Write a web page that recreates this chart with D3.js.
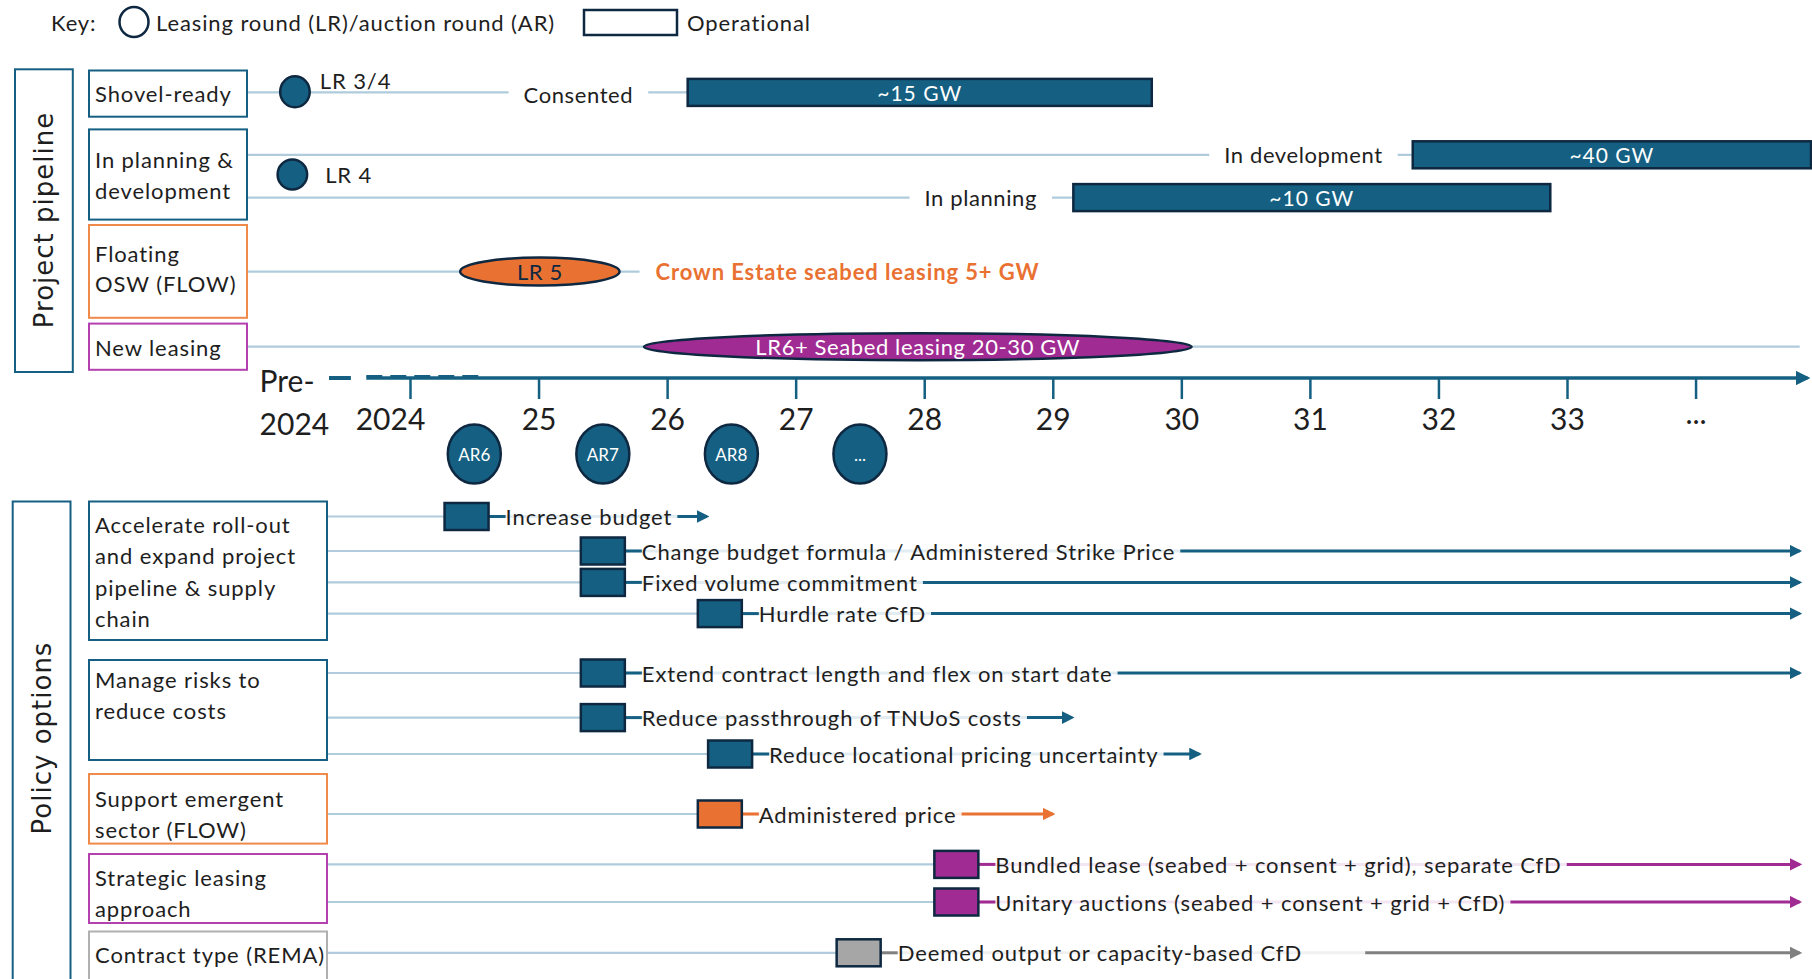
<!DOCTYPE html>
<html><head><meta charset="utf-8">
<script src="https://cdn.jsdelivr.net/npm/d3@7"></script>
<style>
body{margin:0;background:#fff}
svg{display:block}
text{font-family:Lato, "Open Sans", sans-serif;fill:#1e1e1e}
.t{font-size:22px;letter-spacing:0.9px}
</style>
</head><body>
<svg id="c" width="1812" height="979"></svg>
<script>
// ================= DATA =================
const tickYears = [2024, 2025, 2026, 2027, 2028, 2029, 2030, 2031, 2032, 2033, 2034];
const tickLabels = ["2024", "25", "26", "27", "28", "29", "30", "31", "32", "33", "..."];
const preLabel = ["Pre-", "2024"];

const auctionRounds = ["AR6", "AR7", "AR8", "..."];
const auctionYears = [2024.5, 2025.5, 2026.5, 2027.5];

const pipelineCategories = ["Shovel-ready", "In planning &|development", "Floating|OSW (FLOW)", "New leasing"];

const leasingRounds = ["LR 3/4", "LR 4", "LR 5", "LR6+ Seabed leasing 20-30 GW"];
const leasingStart = [2022.99, 2022.97, 2024.39, 2025.82];
const leasingEnd = [2023.22, 2023.20, 2025.63, 2030.08];

const stageLabels = ["Consented", "In development", "In planning"];
const stageLabelYears = [2025.31, 2030.95, 2028.44];
const operationalLabels = ["~15 GW", "~40 GW", "~10 GW"];
const operationalStart = [2026.16, 2031.80, 2029.16];
const operationalEnd = [2029.77, 2034.95, 2032.87];

const flowNote = "Crown Estate seabed leasing 5+ GW";
const flowNoteYear = 2025.91;

const policyCategories = ["Accelerate roll-out|and expand project|pipeline & supply|chain",
  "Manage risks to|reduce costs", "Support emergent|sector (FLOW)", "Strategic leasing|approach", "Contract type (REMA)"];
const policyOptions = ["Increase budget", "Change budget formula / Administered Strike Price",
  "Fixed volume commitment", "Hurdle rate CfD", "Extend contract length and flex on start date",
  "Reduce passthrough of TNUoS costs", "Reduce locational pricing uncertainty", "Administered price",
  "Bundled lease (seabed + consent + grid), separate CfD", "Unitary auctions (seabed + consent + grid + CfD)",
  "Deemed output or capacity-based CfD"];
const policyGroup = [0, 0, 0, 0, 1, 1, 1, 2, 3, 3, 4];
const policyStart = [2024.44, 2025.50, 2025.50, 2026.41, 2025.50, 2025.50, 2026.49, 2026.41, 2028.25, 2028.25, 2027.49];
const policyArrowFrom = [null, null, null, null, null, null, null, null, null, null, 2031.43];
const policyArrowEnd = [2026.31, 2034.81, 2034.81, 2034.81, 2034.81, 2029.15, 2030.14, 2029.00, 2034.81, 2034.81, 2034.81];

// ================= STYLE / LAYOUT =================
const COL = {blue: "#156082", dark: "#0E2841", orange: "#E97132", purple: "#A02B93",
  grey: "#A6A6A6", greyArrow: "#808080", light: "#AFCBDC", text: "#1e1e1e"};
const groupColor = [COL.blue, COL.blue, COL.orange, COL.purple, COL.grey];
const groupArrow = [COL.blue, COL.blue, COL.orange, COL.purple, COL.greyArrow];
const pipeBoxColor = [COL.blue, COL.blue, "#F08A4B", "#B540B0"];
const policyBoxColor = [COL.blue, COL.blue, "#F08A4B", "#B540B0", "#B0B0B0"];

const pipeBoxes = [[70.5, 116.7], [129.4, 219.6], [225, 317.8], [323.6, 369.8]];
const pipeTextY0 = [93.6, 159.5, 253, 347.8];
const policyBoxes = [[501.5, 640], [660, 760], [774, 843.6], [854, 923], [931.5, 995]];
const policyTextY0 = [524.6, 679.5, 798.5, 877, 954.5];
const policyRowY = [516.5, 551, 582.4, 613.6, 673, 717.6, 754, 814, 864.4, 902, 952.8];
const leasingY = [91.8, 174.5, 271.6, 346.7];
const stageY = [92.4, 154.8, 197.6];
const axisY = 378;
const boxL = 89, pipeBoxR = 247, polBoxR = 327;

const svg = d3.select("#c");
const x = d3.scaleLinear().domain([2024, 2033]).range([410, 1567]);

const defs = svg.append("defs");
function marker(id, color) {
  defs.append("marker").attr("id", id).attr("viewBox", "0 0 10 10")
    .attr("refX", 8).attr("refY", 5).attr("markerWidth", 4.2).attr("markerHeight", 4.2)
    .attr("orient", "auto").attr("markerUnits", "strokeWidth")
    .append("path").attr("d", "M0,0L10,5L0,10z").attr("fill", color);
}
marker("m0", COL.blue); marker("m1", COL.blue); marker("m2", COL.orange); marker("m3", COL.purple); marker("m4", COL.greyArrow);
marker("mAxis", COL.blue);

// ---------- key ----------
const key = svg.append("g");
key.append("text").attr("class", "t").attr("x", 51).attr("y", 22).attr("dominant-baseline", "central").text("Key:");
key.append("ellipse").attr("cx", 134).attr("cy", 22).attr("rx", 14.5).attr("ry", 15).attr("fill", "#fff").attr("stroke", COL.dark).attr("stroke-width", 2.5);
key.append("text").attr("class", "t").attr("x", 156).attr("y", 22).attr("dominant-baseline", "central").text("Leasing round (LR)/auction round (AR)");
key.append("rect").attr("x", 584).attr("y", 10).attr("width", 93).attr("height", 25).attr("fill", "#fff").attr("stroke", COL.dark).attr("stroke-width", 2.5);
key.append("text").attr("class", "t").attr("x", 687).attr("y", 22).attr("dominant-baseline", "central").text("Operational");

// ---------- section frames ----------
svg.append("rect").attr("x", 15).attr("y", 69.3).attr("width", 57.8).attr("height", 302.7).attr("fill", "none").attr("stroke", COL.blue).attr("stroke-width", 2);
svg.append("text").attr("transform", "translate(44,220) rotate(-90)").attr("text-anchor", "middle").attr("dominant-baseline", "central")
  .style("font-family", "'DejaVu Sans', sans-serif").style("font-size", "26px").style("letter-spacing", "1px").text("Project pipeline");
svg.append("rect").attr("x", 12.7).attr("y", 501.5).attr("width", 57.8).attr("height", 500).attr("fill", "none").attr("stroke", COL.blue).attr("stroke-width", 2);
svg.append("text").attr("transform", "translate(42,738) rotate(-90)").attr("text-anchor", "middle").attr("dominant-baseline", "central")
  .style("font-family", "'DejaVu Sans', sans-serif").style("font-size", "26px").style("letter-spacing", "1px").text("Policy options");

// ---------- category boxes ----------
function catBoxes(cats, boxes, colors, textY0, right, step) {
  const g = svg.append("g");
  cats.forEach((c, i) => {
    g.append("rect").attr("x", boxL).attr("y", boxes[i][0]).attr("width", right - boxL).attr("height", boxes[i][1] - boxes[i][0])
      .attr("fill", "#fff").attr("stroke", colors[i]).attr("stroke-width", 2);
    c.split("|").forEach((line, j) => {
      g.append("text").attr("class", "t").attr("x", boxL + 6).attr("y", textY0[i] + j * step).attr("dominant-baseline", "central")
        .text(line);
    });
  });
}

// ---------- pipeline light lines ----------
const lines = svg.append("g").attr("stroke", COL.light).attr("stroke-width", 2.2);
stageLabels.forEach((s, i) => {
  lines.append("line").attr("x1", pipeBoxR).attr("x2", x(operationalStart[i])).attr("y1", stageY[i]).attr("y2", stageY[i]);
});
lines.append("line").attr("x1", pipeBoxR).attr("x2", x(flowNoteYear) - 16).attr("y1", leasingY[2]).attr("y2", leasingY[2]);
lines.append("line").attr("x1", pipeBoxR).attr("x2", x(2034.81)).attr("y1", leasingY[3]).attr("y2", leasingY[3]);

catBoxes(pipelineCategories, pipeBoxes, pipeBoxColor, pipeTextY0, pipeBoxR, 30.5);

// stage labels with white background
stageLabels.forEach((s, i) => {
  const t = svg.append("text").attr("class", "t").attr("x", x(stageLabelYears[i])).attr("y", stageY[i] + (i === 0 ? 2 : 0)).attr("text-anchor", "middle")
    .attr("dominant-baseline", "central").style("letter-spacing", "0.6px").text(s);
  const b = t.node().getBBox();
  svg.insert("rect", () => t.node()).attr("x", b.x - 15).attr("y", b.y).attr("width", b.width + 30).attr("height", b.height).attr("fill", "#fff");
});

// operational bars
operationalLabels.forEach((l, i) => {
  const x0 = x(operationalStart[i]), x1 = Math.min(x(operationalEnd[i]), 1811);
  svg.append("rect").attr("x", x0).attr("y", stageY[i] - 13.5).attr("width", x1 - x0).attr("height", 27)
    .attr("fill", COL.blue).attr("stroke", COL.dark).attr("stroke-width", 2.5);
  svg.append("text").attr("x", (x0 + x1) / 2).attr("y", stageY[i]).attr("text-anchor", "middle").attr("dominant-baseline", "central")
    .style("font-size", "21px").style("letter-spacing", "1px").style("fill", "#fff").text(l);
});

// leasing rounds
const lrFill = [COL.blue, COL.blue, COL.orange, COL.purple];
const lrRy = [15.5, 15, 14, 13.5];
leasingRounds.forEach((l, i) => {
  const cx = (x(leasingStart[i]) + x(leasingEnd[i])) / 2, rx = (x(leasingEnd[i]) - x(leasingStart[i])) / 2;
  svg.append("ellipse").attr("cx", cx).attr("cy", leasingY[i]).attr("rx", rx).attr("ry", lrRy[i])
    .attr("fill", lrFill[i]).attr("stroke", COL.dark).attr("stroke-width", 2.5);
  if (i < 2) {
    svg.append("text").attr("class", "t").attr("x", x(leasingEnd[i]) + (i === 0 ? 10 : 18)).attr("y", leasingY[i] - (i === 0 ? 11 : 0))
      .attr("dominant-baseline", "central").text(l);
  } else {
    svg.append("text").attr("class", "t").attr("x", cx).attr("y", leasingY[i]).attr("text-anchor", "middle").attr("dominant-baseline", "central")
      .style("letter-spacing", "0.6px").style("fill", i === 2 ? COL.dark : "#fff").text(l);
  }
});
svg.append("text").attr("class", "t").attr("x", x(flowNoteYear)).attr("y", leasingY[2]).attr("dominant-baseline", "central")
  .style("font-weight", "bold").style("fill", COL.orange).text(flowNote);

// ---------- axis ----------
svg.append("line").attr("x1", x(2023.37)).attr("x2", x(2023.54)).attr("y1", axisY).attr("y2", axisY).attr("stroke", COL.blue).attr("stroke-width", 4);
svg.append("line").attr("x1", x(2023.66)).attr("x2", x(2034.87)).attr("y1", axisY).attr("y2", axisY)
  .attr("stroke", COL.blue).attr("stroke-width", 3.5).attr("marker-end", "url(#mAxis)");
svg.append("line").attr("x1", x(2023.66)).attr("x2", x(2024.58)).attr("y1", axisY - 2).attr("y2", axisY - 2)
  .attr("stroke", COL.blue).attr("stroke-width", 2).attr("stroke-dasharray", "16,8");
const axis = d3.axisBottom(x).tickValues(tickYears).tickSize(21).tickPadding(10).tickFormat((d, i) => tickLabels[i]);
const ag = svg.append("g").attr("transform", `translate(0,${axisY})`).call(axis);
ag.select(".domain").remove();
ag.selectAll(".tick line").attr("stroke", COL.blue).attr("stroke-width", 2.5);
ag.selectAll(".tick text").style("font-size", "30px").style("font-family", "Lato, sans-serif").attr("fill", COL.text)
  .attr("dx", (d, i) => i === 0 ? -20 : 0).attr("dy", (d, i) => i === tickLabels.length - 1 ? "0.5em" : "0.71em");
preLabel.forEach((p, i) => {
  svg.append("text").attr("x", x(2022.83)).attr("y", axisY + 2 + i * 43).attr("dominant-baseline", "central")
    .style("font-size", "30px").text(p);
});

// auction rounds
auctionRounds.forEach((a, i) => {
  svg.append("ellipse").attr("cx", x(auctionYears[i])).attr("cy", 454).attr("rx", 26.5).attr("ry", 29.5)
    .attr("fill", COL.blue).attr("stroke", COL.dark).attr("stroke-width", 2.5);
  svg.append("text").attr("x", x(auctionYears[i])).attr("y", 454).attr("text-anchor", "middle").attr("dominant-baseline", "central")
    .style("font-size", "17px").style("fill", "#fff").text(a);
});

// ---------- policy options ----------
const plines = svg.append("g").attr("stroke", COL.light).attr("stroke-width", 2.2);
policyOptions.forEach((p, i) => {
  plines.append("line").attr("x1", polBoxR).attr("x2", x(policyStart[i]) - 22).attr("y1", policyRowY[i]).attr("y2", policyRowY[i]);
});
catBoxes(policyCategories, policyBoxes, policyBoxColor, policyTextY0, polBoxR, 31.2);

policyOptions.forEach((p, i) => {
  const g = policyGroup[i], y = policyRowY[i], cx = x(policyStart[i]);
  const tx = cx + 22 + 17;
  const faint = svg.append("line").attr("y1", y).attr("y2", y).attr("x1", cx + 22).attr("stroke", groupArrow[g]).attr("stroke-opacity", 0.12).attr("stroke-width", 3);
  svg.append("line").attr("x1", cx + 22).attr("x2", tx).attr("y1", y).attr("y2", y).attr("stroke", groupArrow[g]).attr("stroke-width", 3);
  const t = svg.append("text").attr("class", "t").attr("x", tx).attr("y", y).attr("dominant-baseline", "central").text(p);
  const tEnd = tx + t.node().getComputedTextLength();
  const a0 = policyArrowFrom[i] != null ? x(policyArrowFrom[i]) : tEnd + 5;
  faint.attr("x2", a0);
  svg.append("line").attr("x1", a0).attr("x2", x(policyArrowEnd[i])).attr("y1", y).attr("y2", y)
    .attr("stroke", groupArrow[g]).attr("stroke-width", 3).attr("marker-end", `url(#m${g})`);
  svg.append("rect").attr("x", cx - 22).attr("y", y - 13.5).attr("width", 44).attr("height", 27)
    .attr("fill", groupColor[g]).attr("stroke", COL.dark).attr("stroke-width", 2.5);
});
</script>
</body></html>
